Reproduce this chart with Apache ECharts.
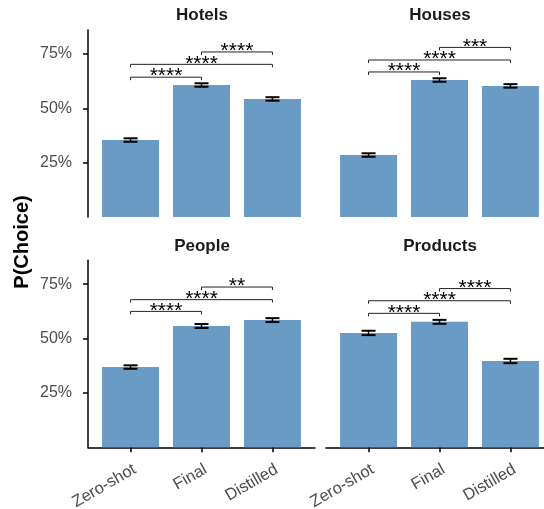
<!DOCTYPE html>
<html><head><meta charset="utf-8">
<script src="https://cdn.jsdelivr.net/npm/echarts@6/dist/echarts.min.js"></script>
<style>html,body{margin:0;padding:0;background:#fff}#c{width:544px;height:509px}</style>
</head><body><div id="c"></div>
<script>
// ---- data ----
const categories = ['Zero-shot', 'Final', 'Distilled'];
const panels = ['Hotels', 'Houses', 'People', 'Products'];
const hotelsValues = [0.354, 0.607, 0.543];
const housesValues = [0.285, 0.630, 0.603];
const peopleValues = [0.369, 0.558, 0.585];
const productsValues = [0.526, 0.577, 0.397];
const hotelsErr = [0.008, 0.008, 0.008];
const housesErr = [0.008, 0.008, 0.008];
const peopleErr = [0.008, 0.009, 0.009];
const productsErr = [0.010, 0.009, 0.010];
const comparisons = [[1, 2], [1, 3], [2, 3]];
const hotelsSigY = [0.643, 0.702, 0.759];
const housesSigY = [0.667, 0.722, 0.780];
const peopleSigY = [0.625, 0.679, 0.737];
const productsSigY = [0.616, 0.674, 0.730];
const hotelsSig = ['****', '****', '****'];
const housesSig = ['****', '****', '***'];
const peopleSig = ['****', '****', '**'];
const productsSig = ['****', '****', '****'];
const yTickValues = [0.25, 0.5, 0.75];
const yMax = 0.86;

const values = [hotelsValues, housesValues, peopleValues, productsValues];
const errs = [hotelsErr, housesErr, peopleErr, productsErr];
const sigYs = [hotelsSigY, housesSigY, peopleSigY, productsSigY];
const sigs = [hotelsSig, housesSig, peopleSig, productsSig];

const FONT = '"Liberation Sans", Arial, sans-serif';
const BAR = '#6a9bc4';
const FULLW = 227;               // full panel width (3.2 category units)
const UNIT = FULLW / 3.2;
const lefts = [88, 326, 88, 326];
const tops = [30, 30, 260.3, 260.3];
const widths = [FULLW, 544 - 326, FULLW, 544 - 326];   // right panels are cropped by the page edge
const H = 187;

const grids = [], xAxes = [], yAxes = [], series = [], titles = [];
for (let i = 0; i < 4; i++) {
  const isLeft = i % 2 === 0, isBottom = i >= 2;
  grids.push({ left: lefts[i], top: tops[i], width: widths[i], height: H, containLabel: false, outerBoundsMode: 'none' });
  xAxes.push({
    type: 'value', gridIndex: i, min: 0.4, max: 0.4 + widths[i] / UNIT,
    axisLine: { show: isBottom, onZero: false, lineStyle: { color: '#000', width: 1.5 } },
    axisTick: { show: isBottom, customValues: [1, 2, 3], length: 5, lineStyle: { color: '#000', width: 1.5 } },
    axisLabel: {
      show: isBottom, customValues: [1.06, 2.06, 3.06], rotate: 30, margin: 21,
      formatter: v => categories[Math.round(v) - 1],
      color: '#4d4d4d', fontSize: 16.5, fontFamily: FONT
    },
    splitLine: { show: false }
  });
  yAxes.push({
    type: 'value', gridIndex: i, min: 0, max: yMax,
    axisLine: { show: isLeft, lineStyle: { color: '#000', width: 1.5 } },
    axisTick: { show: isLeft, customValues: yTickValues, length: 5, lineStyle: { color: '#000', width: 1.5 } },
    axisLabel: {
      show: isLeft, customValues: yTickValues, margin: 16,
      formatter: v => Math.round(v * 100) + '%',
      color: '#4d4d4d', fontSize: 16, fontFamily: FONT
    },
    splitLine: { show: false }
  });
  titles.push({
    text: panels[i], left: lefts[i] + FULLW / 2 - 4.5, top: isBottom ? 233 : 2, textAlign: 'center',
    textStyle: { fontSize: 17, fontWeight: 'bold', color: '#1a1a1a', fontFamily: FONT }
  });
  series.push({
    type: 'bar', xAxisIndex: i, yAxisIndex: i, barWidth: 57,
    itemStyle: { color: BAR },
    data: values[i].map((v, k) => [k + 1, v]),
    silent: true
  });
  series.push({
    type: 'custom', xAxisIndex: i, yAxisIndex: i, silent: true, z: 5,
    data: values[i].map((v, k) => [k + 1, v, errs[i][k]]),
    renderItem: (params, api) => {
      const x = api.value(0), v = api.value(1), e = api.value(2);
      const top = api.coord([x, v + e]), bot = api.coord([x, v - e]);
      const hw = 7;
      const st = { stroke: '#000', lineWidth: 2 };
      return { type: 'group', children: [
        { type: 'line', shape: { x1: top[0], y1: top[1], x2: bot[0], y2: bot[1] }, style: { stroke: '#000', lineWidth: 1.5 } },
        { type: 'line', shape: { x1: top[0] - hw, y1: top[1], x2: top[0] + hw, y2: top[1] }, style: st },
        { type: 'line', shape: { x1: bot[0] - hw, y1: bot[1], x2: bot[0] + hw, y2: bot[1] }, style: st }
      ]};
    }
  });
  series.push({
    type: 'custom', xAxisIndex: i, yAxisIndex: i, silent: true, z: 6, clip: false,
    data: comparisons.map((c, k) => [c[0], c[1], sigYs[i][k], k]),
    renderItem: (params, api) => {
      const x1 = api.value(0), x2 = api.value(1), y = api.value(2), k = api.value(3);
      const p1 = api.coord([x1, y]), p2 = api.coord([x2, y]);
      const st = { stroke: '#222', lineWidth: 1, fill: null };
      const tick = 3;
      return { type: 'group', children: [
        { type: 'polyline', shape: { points: [[p1[0], p1[1] + tick], [p1[0], p1[1]], [p2[0], p2[1]], [p2[0], p2[1] + tick]] }, style: st },
        { type: 'text', style: { text: sigs[i][k], x: (p1[0] + p2[0]) / 2, y: p1[1] - 0.5,
          textAlign: 'center', textVerticalAlign: 'middle', fill: '#000', font: '21px ' + FONT } }
      ]};
    }
  });
}

const chart = echarts.init(document.getElementById('c'), null, { renderer: 'canvas' });
chart.setOption({
  animation: false,
  backgroundColor: '#fff',
  title: titles,
  grid: grids, xAxis: xAxes, yAxis: yAxes, series: series,
  graphic: [{
    type: 'text', x: 22, y: 242, rotation: Math.PI / 2,
    style: { text: 'P(Choice)', textAlign: 'center', textVerticalAlign: 'middle',
      fill: '#000', font: 'bold 20px ' + FONT }
  }]
});
</script></body></html>
